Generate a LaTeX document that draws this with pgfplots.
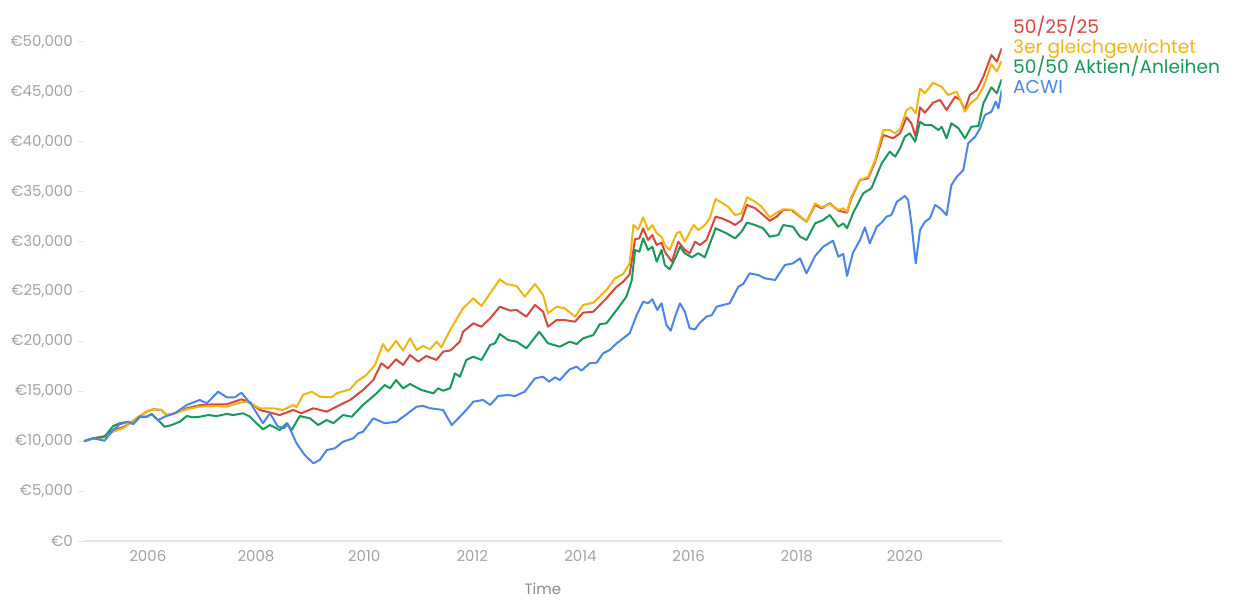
\documentclass[border=0pt]{standalone}
\usepackage{fontspec}
\setmainfont{Poppins}
\usepackage{pgfplots}
\pgfplotsset{compat=1.18}
\definecolor{cRed}{HTML}{D9473B}
\definecolor{cYel}{HTML}{F2B50F}
\definecolor{cGrn}{HTML}{16995A}
\definecolor{cBlu}{HTML}{4886EA}
\definecolor{tickc}{HTML}{A3A3A3}
\definecolor{basec}{HTML}{E6E6E6}
\begin{document}
\begin{tikzpicture}
\useasboundingbox (-84bp,-61bp) rectangle (1174bp,541bp);
\begin{axis}[
  at={(0,0)}, anchor=south west,
  scale only axis, width=917.7bp, height=499bp,
  xmin=2004.82, xmax=2021.79, ymin=0, ymax=50000,
  axis x line*=bottom, axis y line*=left,
  x axis line style={draw=basec, line width=1.2bp, -},
  y axis line style={draw=none},
  every outer x axis line/.append style={-},
  every outer y axis line/.append style={-},
  xtick={2006,2008,...,2020},
  ytick={0,5000,...,50000},
  scaled y ticks=false,
  tick align=outside,
  major tick length=6bp,
  xtick style={draw=none},
  ytick style={draw=basec, line width=1bp},
  /pgf/number format/assume math mode=true,
  x tick label style={/pgf/number format/1000 sep={}, font=\fontsize{15bp}{18bp}\selectfont, text=tickc},
  y tick label style={/pgf/number format/1000 sep={,}, font=\fontsize{15bp}{18bp}\selectfont, text=tickc, inner sep=0pt, xshift=-5bp},
  yticklabel={€\pgfmathprintnumber{\tick}},
  xlabel={Time},
  xlabel style={at={(axis description cs:0.5,0)}, anchor=center, yshift=-48bp, font=\fontsize{15bp}{18bp}\selectfont, text=tickc!85!black},
  no markers,
  every axis plot/.append style={line width=2bp, line join=round},
]
% 50/25/25
\addplot[cRed] coordinates {
(2004.82,10000)(2004.99,10290)(2005.20,10500)(2005.36,11100)(2005.54,11400)(2005.67,11800)(2005.79,12290)(2005.98,12960)
(2006.10,13200)(2006.25,13130)(2006.35,12620)(2006.50,12800)(2006.72,13300)(2006.96,13600)(2007.21,13700)(2007.46,13700)
(2007.73,14200)(2007.89,13900)(2008.07,13130)(2008.44,12620)(2008.69,13130)(2008.84,12800)(2009.06,13300)(2009.31,12960)
(2009.49,13460)(2009.74,14130)(2009.98,15130)(2010.17,16130)(2010.32,17810)(2010.44,17300)(2010.59,18210)(2010.72,17640)
(2010.85,18640)(2011.00,17970)(2011.15,18540)(2011.34,18140)(2011.46,18970)(2011.60,19100)(2011.77,19970)(2011.83,20970)
(2012.02,21810)(2012.17,21470)(2012.33,22310)(2012.51,23480)(2012.70,23080)(2012.82,23150)(2013.00,22480)(2013.16,23650)
(2013.31,22980)(2013.40,21470)(2013.56,22140)(2013.71,22140)(2013.90,21970)(2014.05,22880)(2014.24,22980)(2014.48,24320)
(2014.67,25480)(2014.79,25980)(2014.91,26700)(2015.01,30230)(2015.09,30330)(2015.16,31330)(2015.25,30160)(2015.33,30660)
(2015.41,29660)(2015.50,29890)(2015.56,28990)(2015.69,27990)(2015.81,29990)(2015.93,29160)(2016.02,28830)(2016.12,29990)
(2016.21,29660)(2016.33,30160)(2016.50,32500)(2016.61,32330)(2016.76,31990)(2016.86,31660)(2016.98,32160)(2017.08,33670)
(2017.23,33340)(2017.38,32660)(2017.50,32090)(2017.63,32500)(2017.75,33170)(2017.90,33170)(2018.18,31990)(2018.34,33670)
(2018.46,33340)(2018.61,33840)(2018.77,33100)(2018.93,32900)(2019.01,34340)(2019.17,36170)(2019.32,36340)(2019.45,38010)
(2019.60,40680)(2019.78,40350)(2019.91,40850)(2020.03,42450)(2020.12,41850)(2020.20,40510)(2020.28,43450)(2020.37,42920)
(2020.52,43920)(2020.65,44190)(2020.77,43190)(2020.93,44520)(2021.02,44190)(2021.11,43190)(2021.20,44690)(2021.33,45190)
(2021.45,46520)(2021.60,48700)(2021.70,48030)(2021.79,49370)
};
% 3er gleichgewichtet
\addplot[cYel] coordinates {
(2004.82,10000)(2004.99,10250)(2005.20,10400)(2005.36,10950)(2005.54,11300)(2005.67,11800)(2005.79,12290)(2005.98,12960)
(2006.10,13200)(2006.25,13130)(2006.35,12620)(2006.50,12800)(2006.72,13200)(2006.96,13460)(2007.21,13530)(2007.46,13460)
(2007.70,13860)(2007.83,13960)(2008.07,13300)(2008.32,13300)(2008.50,13130)(2008.69,13630)(2008.75,13400)(2008.87,14630)
(2009.03,14960)(2009.18,14460)(2009.40,14400)(2009.49,14800)(2009.74,15200)(2009.86,15960)(2010.04,16630)(2010.20,17640)
(2010.35,19740)(2010.44,18970)(2010.59,20070)(2010.72,19070)(2010.85,20310)(2010.97,19140)(2011.09,19540)(2011.22,19210)
(2011.34,19970)(2011.43,19410)(2011.59,21140)(2011.83,23320)(2012.02,24320)(2012.17,23550)(2012.33,24820)(2012.51,26220)
(2012.63,25750)(2012.82,25550)(2012.97,24480)(2013.16,25750)(2013.31,24650)(2013.40,22820)(2013.56,23480)(2013.71,23320)
(2013.90,22480)(2014.05,23650)(2014.24,23880)(2014.48,25150)(2014.64,26320)(2014.79,26750)(2014.91,27820)(2014.98,31660)
(2015.07,31230)(2015.16,32430)(2015.25,31160)(2015.33,31660)(2015.41,30830)(2015.50,30490)(2015.56,29660)(2015.65,29160)
(2015.78,30830)(2015.84,30990)(2015.93,29990)(2016.09,31660)(2016.18,31160)(2016.30,31660)(2016.39,32330)(2016.50,34270)
(2016.61,33900)(2016.73,33500)(2016.86,32660)(2016.98,32830)(2017.08,34440)(2017.23,34000)(2017.35,33500)(2017.50,32430)
(2017.63,32900)(2017.75,33240)(2017.93,33170)(2018.18,31990)(2018.34,33830)(2018.46,33440)(2018.61,33770)(2018.77,33170)
(2018.86,33340)(2018.93,33000)(2019.01,34500)(2019.17,36170)(2019.32,36500)(2019.45,38180)(2019.60,41180)(2019.72,41180)
(2019.82,40850)(2019.91,41250)(2020.03,43190)(2020.12,43450)(2020.20,42850)(2020.28,45350)(2020.37,44860)(2020.52,45910)
(2020.68,45510)(2020.80,44690)(2020.96,45020)(2021.11,43020)(2021.20,43790)(2021.33,44360)(2021.45,45510)(2021.60,47770)
(2021.70,47030)(2021.79,48130)
};
% 50/50 Aktien/Anleihen
\addplot[cGrn] coordinates {
(2004.82,10000)(2004.99,10290)(2005.20,10450)(2005.36,11520)(2005.48,11800)(2005.64,11950)(2005.73,11720)(2005.85,12450)
(2005.98,12450)(2006.07,12730)(2006.19,12120)(2006.31,11450)(2006.44,11620)(2006.59,11950)(2006.72,12520)(2006.84,12390)
(2006.96,12450)(2007.12,12620)(2007.27,12520)(2007.46,12730)(2007.58,12620)(2007.76,12800)(2007.89,12450)(2008.01,11800)
(2008.13,11190)(2008.26,11620)(2008.44,11120)(2008.57,11800)(2008.66,11120)(2008.81,12520)(2009.00,12290)(2009.15,11620)
(2009.31,12120)(2009.43,11800)(2009.61,12620)(2009.77,12450)(2009.98,13630)(2010.23,14800)(2010.38,15630)(2010.48,15300)
(2010.59,16130)(2010.72,15300)(2010.85,15730)(2011.06,15130)(2011.28,14800)(2011.37,15300)(2011.46,15060)(2011.59,15300)
(2011.68,16800)(2011.77,16460)(2011.89,18140)(2012.02,18470)(2012.17,18140)(2012.33,19640)(2012.42,19810)(2012.51,20740)
(2012.66,20140)(2012.82,19970)(2013.00,19310)(2013.24,20970)(2013.40,19810)(2013.62,19470)(2013.80,19970)(2013.93,19740)
(2014.05,20310)(2014.24,20640)(2014.36,21740)(2014.48,21810)(2014.67,23150)(2014.85,24480)(2014.95,26150)(2015.01,29160)
(2015.09,28990)(2015.16,30330)(2015.25,29160)(2015.33,29490)(2015.41,27990)(2015.50,29160)(2015.56,27650)(2015.65,27220)
(2015.78,28660)(2015.84,29490)(2015.93,28830)(2016.06,28430)(2016.18,28830)(2016.30,28430)(2016.50,31330)(2016.70,30830)
(2016.86,30330)(2016.98,30990)(2017.08,31900)(2017.23,31660)(2017.38,31330)(2017.50,30490)(2017.66,30660)(2017.75,31660)
(2017.93,31490)(2018.06,30490)(2018.18,30160)(2018.34,31830)(2018.49,32160)(2018.61,32660)(2018.77,31490)(2018.86,31830)
(2018.93,31330)(2019.04,32830)(2019.23,34840)(2019.38,35340)(2019.57,37840)(2019.72,39010)(2019.82,38510)(2019.91,39350)
(2020.00,40510)(2020.09,40850)(2020.19,40010)(2020.28,42010)(2020.37,41680)(2020.49,41680)(2020.62,41180)(2020.68,41510)
(2020.77,40350)(2020.86,41850)(2020.99,41350)(2021.11,40350)(2021.23,41510)(2021.36,41580)(2021.45,43850)(2021.60,45460)
(2021.70,44860)(2021.79,46260)
};
% ACWI
\addplot[cBlu] coordinates {
(2004.82,10000)(2004.99,10290)(2005.20,10050)(2005.36,11120)(2005.48,11700)(2005.64,11950)(2005.73,11720)(2005.85,12400)
(2005.98,12450)(2006.07,12700)(2006.19,12100)(2006.31,12450)(2006.50,12800)(2006.72,13630)(2006.96,14130)(2007.09,13800)
(2007.30,14960)(2007.46,14400)(2007.61,14400)(2007.73,14860)(2007.92,13630)(2008.13,11800)(2008.26,12800)(2008.40,11500)
(2008.52,11300)(2008.59,11700)(2008.75,9790)(2008.90,8620)(2009.06,7790)(2009.18,8120)(2009.31,9120)(2009.46,9290)
(2009.61,9950)(2009.80,10290)(2009.89,10790)(2009.98,10950)(2010.17,12290)(2010.38,11800)(2010.60,11950)(2010.85,12960)
(2010.97,13460)(2011.09,13530)(2011.22,13300)(2011.46,13130)(2011.62,11620)(2011.77,12450)(2011.89,13130)(2012.02,13960)
(2012.20,14130)(2012.33,13630)(2012.48,14530)(2012.66,14630)(2012.79,14530)(2012.97,14960)(2013.16,16300)(2013.31,16460)
(2013.42,15960)(2013.53,16400)(2013.62,16130)(2013.80,17200)(2013.93,17470)(2014.02,17070)(2014.17,17810)(2014.30,17870)
(2014.42,18810)(2014.54,19140)(2014.67,19810)(2014.79,20310)(2014.91,20810)(2015.04,22640)(2015.16,23980)(2015.25,23820)
(2015.33,24220)(2015.42,23150)(2015.50,23820)(2015.59,21640)(2015.67,21070)(2015.75,22480)(2015.84,23820)(2015.93,22980)
(2016.02,21310)(2016.12,21210)(2016.21,21870)(2016.33,22480)(2016.43,22640)(2016.52,23480)(2016.76,23820)(2016.92,25480)
(2017.01,25750)(2017.13,26820)(2017.29,26650)(2017.41,26320)(2017.60,26150)(2017.78,27650)(2017.93,27820)(2018.06,28320)
(2018.18,26820)(2018.34,28560)(2018.49,29490)(2018.67,30090)(2018.77,28490)(2018.86,28760)(2018.93,26560)(2019.04,28890)
(2019.17,30160)(2019.26,31430)(2019.35,29830)(2019.48,31490)(2019.57,31900)(2019.66,32500)(2019.75,32660)(2019.85,33990)
(2020.00,34570)(2020.06,34170)(2020.12,31830)(2020.20,27820)(2020.28,31160)(2020.37,31990)(2020.46,32330)(2020.56,33670)
(2020.65,33340)(2020.77,32660)(2020.86,35670)(2020.96,36500)(2021.08,37170)(2021.17,39850)(2021.30,40510)(2021.39,41350)
(2021.48,42680)(2021.60,43020)(2021.68,44020)(2021.73,43350)(2021.79,45190)
};
\end{axis}
\begin{scope}[every node/.style={anchor=base west, inner sep=0pt, font=\fontsize{18.6bp}{20bp}\selectfont}]
\node[text=cRed] at (929bp,507bp) {50/25/25};
\node[text=cYel] at (929bp,487bp) {3er gleichgewichtet};
\node[text=cGrn] at (929bp,467bp) {50/50 Aktien/Anleihen};
\node[text=cBlu] at (929bp,447bp) {ACWI};
\end{scope}
\end{tikzpicture}
\end{document}
